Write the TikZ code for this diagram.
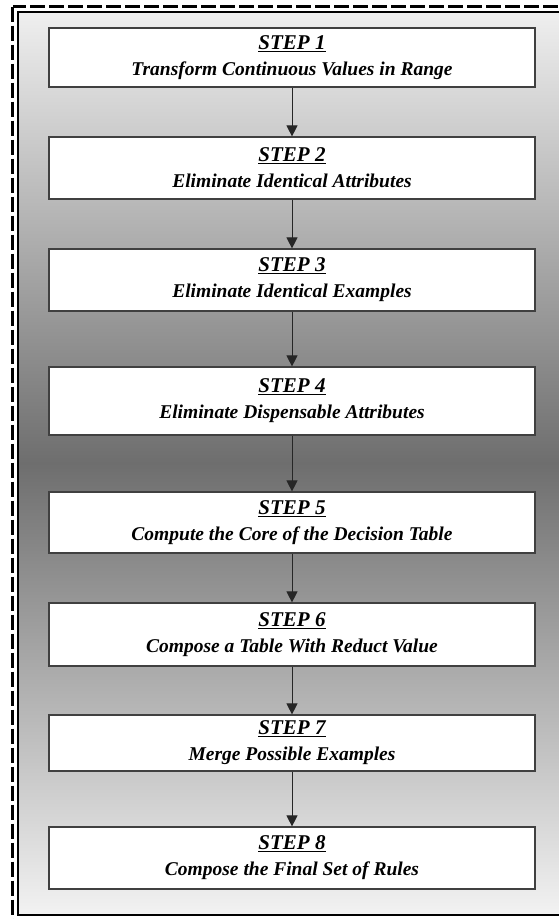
\documentclass[tikz,border=0pt]{standalone}
\usepackage{fontspec}
\setmainfont{Liberation Serif}
\usetikzlibrary{arrows.meta}
\definecolor{gtop}{HTML}{EFEFEF}
\definecolor{gmid}{HTML}{6E6E6E}
\definecolor{gbot}{HTML}{F2F2F2}
\newcommand{\stephead}[1]{{\fontsize{21}{26}\selectfont\underline{#1}}}
\begin{document}
\begin{tikzpicture}[x=1pt,y=-1pt,
  stepbox/.style={draw=black!75, fill=white, line width=1.2pt, minimum width=486pt,
    inner sep=0pt, align=center, font=\fontsize{19.5}{26}\selectfont\bfseries\itshape},
  flow/.style={draw=black!85, line width=1pt, -{Triangle[width=11pt,length=11pt]}}]
\useasboundingbox (0,0) rectangle (559,919);
\begin{scope}
\clip (0,0) rectangle (559,919);
\fill[white] (0,0) rectangle (559,919);
\shade[top color=gtop, bottom color=gbot, middle color=gmid] (18,12) rectangle (564,914);
\draw[black, line width=3.5pt, dash pattern=on 15pt off 4pt] (12.5,6.5) rectangle (568,920.5);
\draw[black, line width=2pt] (18,12) rectangle (564,914.5);
\end{scope}
\node[stepbox, minimum height=59pt] (s1) at (292,57.5) {\stephead{STEP 1}\\Transform Continuous Values in Range};
\node[stepbox, minimum height=62pt] (s2) at (292,168) {\stephead{STEP 2}\\Eliminate Identical Attributes};
\node[stepbox, minimum height=62pt] (s3) at (292,280) {\stephead{STEP 3}\\Eliminate Identical Examples};
\node[stepbox, minimum height=68pt] (s4) at (292,401) {\stephead{STEP 4}\\Eliminate Dispensable Attributes};
\node[stepbox, minimum height=61pt] (s5) at (292,522.5) {\stephead{STEP 5}\\Compute the Core of the Decision Table};
\node[stepbox, minimum height=63pt] (s6) at (292,634.5) {\stephead{STEP 6}\\Compose a Table With Reduct Value};
\node[stepbox, minimum height=56pt] (s7) at (292,743) {\stephead{STEP 7}\\Merge Possible Examples};
\node[stepbox, minimum height=62pt] (s8) at (292,858) {\stephead{STEP 8}\\Compose the Final Set of Rules};
\draw[flow] (s1) -- (s2);
\draw[flow] (s2) -- (s3);
\draw[flow] (s3) -- (s4);
\draw[flow] (s4) -- (s5);
\draw[flow] (s5) -- (s6);
\draw[flow] (s6) -- (s7);
\draw[flow] (s7) -- (s8);
\end{tikzpicture}
\end{document}
